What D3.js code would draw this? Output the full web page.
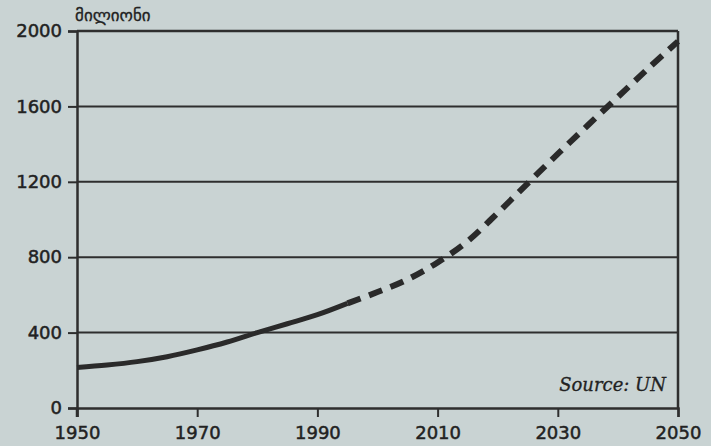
<!DOCTYPE html>
<html lang="ka">
<head>
<meta charset="UTF-8">
<title>მილიონი</title>
<script src="https://cdn.jsdelivr.net/npm/d3@7"></script>
<style>
  html, body { margin: 0; padding: 0; background: #c9d3d3; }
  svg { display: block; }
  .tick text { font-family: "DejaVu Sans", sans-serif; font-size: 18px; fill: #222; stroke: #222; stroke-width: 0.5px; }
</style>
</head>
<body>
<script>
    // Data ////////////////////////////////////
    var yearsActual = [1950, 1955, 1960, 1965, 1970, 1975, 1980, 1985, 1990, 1995];
    var valuesActual = [215, 228, 246, 272, 308, 350, 400, 447, 495, 555];
    var yearsProjected = [1995, 2000, 2005, 2010, 2015, 2020, 2025, 2030, 2035, 2040, 2045, 2050];
    var valuesProjected = [555, 615, 682, 772, 885, 1035, 1192, 1348, 1500, 1650, 1800, 1945];
    var xTicks = [1950, 1970, 1990, 2010, 2030, 2050];
    var yTicks = [0, 400, 800, 1200, 1600, 2000];
    var unitLabel = 'მილიონი';
    var sourceLabel = 'Source: UN';

    var width = 711, height = 446;
    var margins = {top: 31, right: 33, bottom: 38, left: 77};
    var chartW = width - margins.left - margins.right;
    var chartH = height - margins.top - margins.bottom;

    var svg = d3.select('body').append('svg')
            .attr('width', width).attr('height', height);
    svg.append('rect').attr('width', width).attr('height', height).attr('fill', '#c9d3d3');

    var g = svg.append('g').attr('transform', 'translate(' + margins.left + ',' + margins.top + ')');

    var x = d3.scaleLinear().domain([1950, 2050]).range([0, chartW]);
    var y = d3.scaleLinear().domain([0, 2000]).range([chartH, 0]);

    // Gridlines (top one doubles as the frame)
    g.append('g').selectAll('line.grid')
            .data(yTicks.filter(function (d) { return d > 0; }))
            .enter().append('line')
            .attr('class', 'grid')
            .attr('x1', 0).attr('x2', chartW)
            .attr('y1', function (d) { return y(d); })
            .attr('y2', function (d) { return y(d); })
            .style('stroke', '#2e2e2e')
            .style('stroke-width', function (d) { return d === 2000 ? 2.5 : 2; });

    // Right border
    g.append('line')
            .attr('x1', chartW).attr('x2', chartW).attr('y1', 0).attr('y2', chartH)
            .style('stroke', '#2e2e2e').style('stroke-width', 2.5);

    // Axes
    var xAxis = g.append('g').attr('transform', 'translate(0,' + chartH + ')')
            .call(d3.axisBottom(x).tickValues(xTicks).tickFormat(d3.format('d')).tickSize(9).tickPadding(5));
    var yAxis = g.append('g')
            .call(d3.axisLeft(y).tickValues(yTicks).tickFormat(d3.format('d')).tickSize(9).tickPadding(6));
    [xAxis, yAxis].forEach(function (a) {
        a.select('.domain').style('stroke', '#2e2e2e').style('stroke-width', 2.5);
        a.selectAll('.tick line').style('stroke', '#2e2e2e').style('stroke-width', 2);
    });
    xAxis.selectAll('.tick text').attr('dy', '0.95em');
    // left axis extends down as the 1950 tick
    g.append('line').attr('x1', 0).attr('x2', 0).attr('y1', chartH).attr('y2', chartH + 9)
            .style('stroke', '#2e2e2e').style('stroke-width', 2.5);

    // Lines
    var line = d3.line()
            .x(function (d) { return x(d[0]); })
            .y(function (d) { return y(d[1]); })
            .curve(d3.curveCatmullRom.alpha(0.5));

    g.append('path')
            .datum(d3.zip(yearsActual, valuesActual))
            .attr('d', line)
            .style('fill', 'none').style('stroke', '#2a2a2a').style('stroke-width', 5);

    g.append('path')
            .datum(d3.zip(yearsProjected, valuesProjected))
            .attr('d', line)
            .style('fill', 'none').style('stroke', '#2a2a2a').style('stroke-width', 6)
            .style('stroke-dasharray', '14,9');

    // Labels
    svg.append('text')
            .attr('x', 75).attr('y', 21)
            .style('font-family', '"DejaVu Sans", sans-serif').style('font-size', '17px')
            .style('fill', '#222').style('stroke', '#222').style('stroke-width', '0.3px')
            .text(unitLabel);

    g.append('text')
            .attr('x', chartW - 12).attr('y', chartH - 17)
            .attr('text-anchor', 'end')
            .style('font-family', '"DejaVu Serif", serif').style('font-style', 'italic')
            .style('font-size', '18px').style('fill', '#222').style('stroke', '#222').style('stroke-width', '0.3px')
            .text(sourceLabel);
</script>
</body>
</html>
